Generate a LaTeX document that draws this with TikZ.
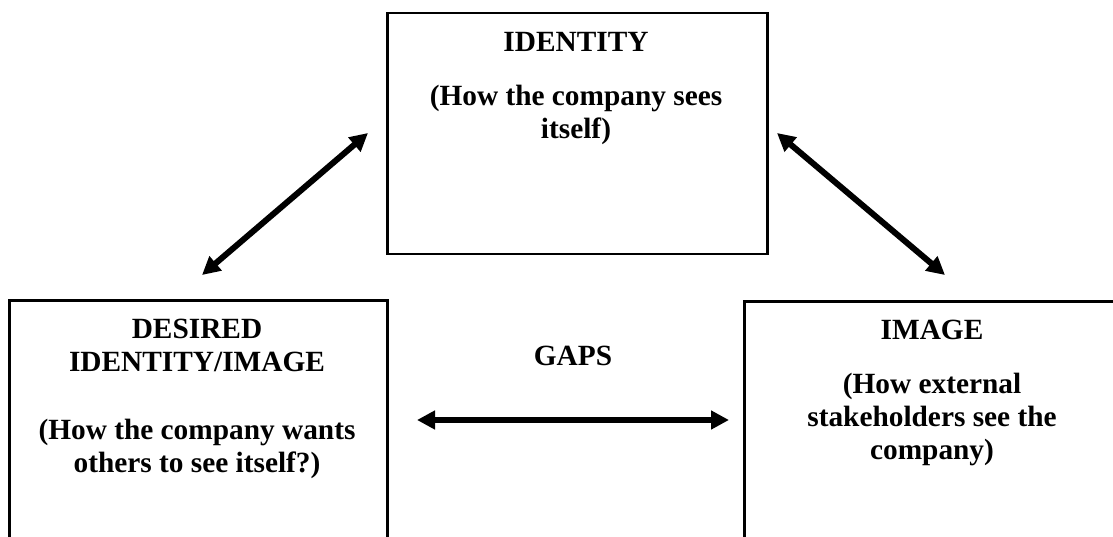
\documentclass[tikz,border=0pt]{standalone}
\usepackage{fontspec}
\setmainfont{Liberation Serif}
\usetikzlibrary{arrows.meta}
\begin{document}
\begin{tikzpicture}[x=1pt,y=-1pt,
  box/.style={draw,line width=2.5pt,rectangle,inner sep=0pt,anchor=north west},
  txt/.style={anchor=base,inner sep=0pt,font=\fontsize{29.33}{33.5}\selectfont\bfseries},
  dbl/.style={line width=6pt,{Triangle[length=18pt,width=18pt]}-{Triangle[length=18pt,width=18pt]}}]
\useasboundingbox (0,0) rectangle (1113,537);
\clip (0,0) rectangle (1113,537);
% boxes
\node[box,minimum width=380pt,minimum height=241pt] (identity) at (386,12) {};
\node[box,minimum width=378pt,minimum height=300pt] (desired) at (8,299) {};
\node[box,minimum width=400pt,minimum height=300pt] (image) at (743,300) {};
% texts in identity box
\node[txt] (idA) at (576,52) {IDENTITY};
\node[txt] (idB) at (576,106) {(How the company sees};
\node[txt] (idC) at (576,139) {itself)};
% texts in desired box
\node[txt] (deA) at (197,338) {DESIRED};
\node[txt] (deB) at (197,371) {IDENTITY/IMAGE};
\node[txt] (deC) at (197,439) {(How the company wants};
\node[txt] (deD) at (197,472) {others to see itself?)};
% texts in image box
\node[txt] (imA) at (932,339) {IMAGE};
\node[txt] (imB) at (932,393) {(How external};
\node[txt] (imC) at (932,426) {stakeholders see the};
\node[txt] (imD) at (932,459) {company)};
% gaps label
\node[txt] (gaps) at (573,365) {GAPS};
% arrow end points
\coordinate (la) at (202,275);
\coordinate (lb) at (368,133);
\coordinate (ra) at (777,133);
\coordinate (rb) at (945,275);
\coordinate (ga) at (417,420);
\coordinate (gb) at (729,420);
\draw[dbl] (la) -- (lb);
\draw[dbl] (ra) -- (rb);
\draw[dbl] (ga) -- (gb);
\end{tikzpicture}
\end{document}
